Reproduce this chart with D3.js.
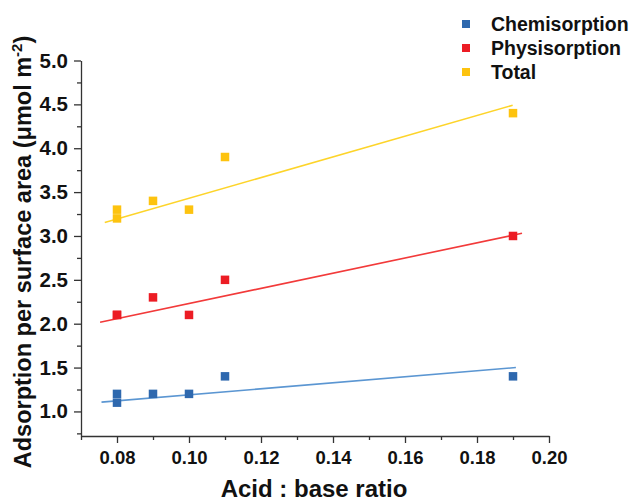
<!DOCTYPE html>
<html>
<head>
<meta charset="utf-8">
<script src="https://cdn.jsdelivr.net/npm/d3@7"></script>
<style>
  body { margin: 0; background: #fff; }
  svg { display: block; font-family: "Liberation Sans", Arial, sans-serif; }
  .tick text { font-weight: bold; fill: #111; }
</style>
</head>
<body>
<div id="chart"></div>
<script>
"use strict";

/********/
/* data */
/********/

const seriesNames = ["Chemisorption", "Physisorption", "Total"];
const seriesColours = ["#2e68ae", "#ec1c24", "#fdc30f"];
const lineColours = ["#5b96d2", "#f23a3a", "#fdd42a"];

const ratio = [0.08, 0.08, 0.09, 0.1, 0.11, 0.19];
const chemisorption = [1.1, 1.2, 1.2, 1.2, 1.4, 1.4];
const physisorption = [2.1, 2.1, 2.3, 2.1, 2.5, 3.0];
const total = [3.2, 3.3, 3.4, 3.3, 3.9, 4.4];

// fitted lines, start and end
const fitRatio = [
  [0.0757, 0.1908],
  [0.0753, 0.1925],
  [0.0766, 0.1899],
];
const fitValue = [
  [1.106, 1.5],
  [2.016, 3.03],
  [3.154, 4.49],
];

const xTicks = [0.08, 0.1, 0.12, 0.14, 0.16, 0.18, 0.2];
const xMinorTicks = [0.07, 0.09, 0.11, 0.13, 0.15, 0.17, 0.19];
const yTicks = [1.0, 1.5, 2.0, 2.5, 3.0, 3.5, 4.0, 4.5, 5.0];
const yMinorTicks = [0.75, 1.25, 1.75, 2.25, 2.75, 3.25, 3.75, 4.25, 4.75];

/********/
/* view */
/********/

const width = 631;
const height = 504;

const svg = d3
  .select("#chart")
  .append("svg")
  .attr("width", width)
  .attr("height", height);

const x = d3.scaleLinear().domain([0.07, 0.2]).range([81, 549]);
const y = d3.scaleLinear().domain([0.72, 5.0]).range([436, 60.5]);

// minor ticks
svg
  .append("g")
  .attr("transform", `translate(0,${y.range()[0]})`)
  .call(d3.axisBottom(x).tickValues(xMinorTicks).tickSize(4).tickFormat(""))
  .call(g => g.select(".domain").remove());

svg
  .append("g")
  .attr("transform", `translate(${x.range()[0]},0)`)
  .call(d3.axisLeft(y).tickValues(yMinorTicks).tickSize(4).tickFormat(""))
  .call(g => g.select(".domain").remove());

// major axes
const xAxis = svg
  .append("g")
  .attr("transform", `translate(0,${y.range()[0]})`)
  .call(
    d3
      .axisBottom(x)
      .tickValues(xTicks)
      .tickSize(7)
      .tickSizeOuter(0)
      .tickPadding(8)
      .tickFormat(d3.format(".2f")),
  );
xAxis.selectAll("text").attr("font-size", 18.5);

const yAxis = svg
  .append("g")
  .attr("transform", `translate(${x.range()[0]},0)`)
  .call(
    d3
      .axisLeft(y)
      .tickValues(yTicks)
      .tickSize(7)
      .tickSizeOuter(0)
      .tickPadding(6)
      .tickFormat(d3.format(".1f")),
  );
yAxis.selectAll("text").attr("font-size", 20.5);

svg.selectAll(".domain, .tick line").attr("stroke", "#333").attr("stroke-width", 1.3);

// axis titles
svg
  .append("text")
  .attr("x", 314)
  .attr("y", 497)
  .attr("text-anchor", "middle")
  .attr("font-size", 24)
  .attr("font-weight", "bold")
  .attr("fill", "#111")
  .text("Acid : base ratio");

const yTitle = svg
  .append("text")
  .attr("transform", "translate(31,252) rotate(-90)")
  .attr("text-anchor", "middle")
  .attr("font-size", 23.5)
  .attr("font-weight", "bold")
  .attr("fill", "#111");
yTitle.append("tspan").text("Adsorption per surface area (\u03bcmol m");
yTitle.append("tspan").attr("dy", -9).attr("font-size", 15).text("-2");
yTitle.append("tspan").attr("dy", 9).text(")");

// fit lines
const line = d3
  .line()
  .x(d => x(d[0]))
  .y(d => y(d[1]));

fitRatio.forEach((r, i) => {
  svg
    .append("path")
    .attr("d", line(r.map((v, j) => [v, fitValue[i][j]])))
    .attr("stroke", lineColours[i])
    .attr("stroke-width", 1.6)
    .attr("fill", "none");
});

// points
const size = 8.5;
[chemisorption, physisorption, total].forEach((values, i) => {
  svg
    .append("g")
    .selectAll("rect")
    .data(values)
    .enter()
    .append("rect")
    .attr("x", (d, j) => x(ratio[j]) - size / 2)
    .attr("y", d => y(d) - size / 2)
    .attr("width", size)
    .attr("height", size)
    .attr("fill", seriesColours[i]);
});

// legend
const legend = svg
  .append("g")
  .selectAll("g")
  .data(seriesNames)
  .enter()
  .append("g")
  .attr("transform", (d, i) => `translate(466,${24 + i * 24})`);

legend
  .append("rect")
  .attr("x", -4)
  .attr("y", -4)
  .attr("width", 8)
  .attr("height", 8)
  .attr("fill", (d, i) => seriesColours[i]);

legend
  .append("text")
  .attr("x", 25)
  .attr("dy", "0.35em")
  .attr("font-size", 19.5)
  .attr("font-weight", "bold")
  .attr("fill", "#111")
  .text(d => d);
</script>
</body>
</html>
